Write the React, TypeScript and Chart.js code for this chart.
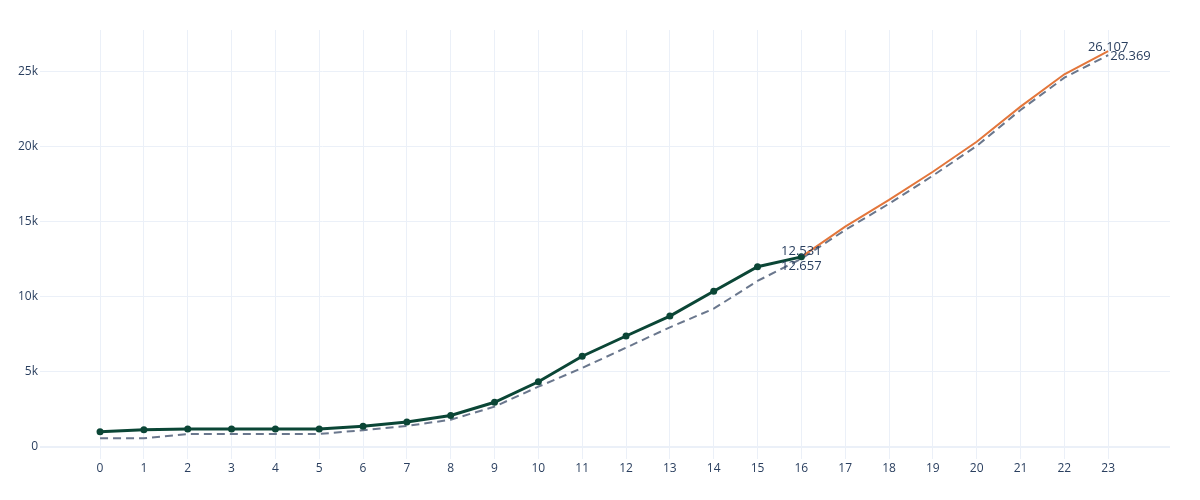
import { useEffect, useRef } from "react";
import { Chart, registerables } from "chart.js";
Chart.register(...registerables);

const xLabels = ["0", "1", "2", "3", "4", "5", "6", "7", "8", "9", "10", "11", "12", "13", "14", "15", "16", "17", "18", "19", "20", "21", "22", "23"];
const actual = [1000, 1130, 1180, 1180, 1180, 1180, 1360, 1650, 2080, 2960, 4330, 6030, 7380, 8710, 10360, 12000, 12657];
const forecastX = [16, 17, 18, 19, 20, 21, 22, 23];
const forecast = [12657, 14670, 16450, 18330, 20330, 22670, 24830, 26369];
const baseline = [560, 560, 850, 850, 850, 850, 1100, 1380, 1800, 2670, 4000, 5250, 6600, 7960, 9200, 11050, 12531, 14450, 16200, 18070, 20050, 22450, 24600, 26107];
const yTicks = [0, 5000, 10000, 15000, 20000, 25000];

const TEXT = "#2a3f5f";
const GRID = "#ebf0f8";

const fmt = (n: number) => n.toString().replace(/\B(?=(\d{3})+(?!\d))/g, ".");

// end-of-series value labels, placed like the plotly textpositions
const endLabels = [
  { x: 16, y: baseline[16], dx: 0, dy: -7, align: "center" },
  { x: 16, y: actual[16], dx: 0, dy: 9, align: "center" },
  { x: 23, y: baseline[23], dx: 0, dy: -8, align: "center" },
  { x: 23, y: forecast[forecast.length - 1], dx: 2, dy: 5, align: "left" },
];

const labelPlugin = {
  id: "endLabels",
  afterDatasetsDraw(chart: any) {
    const { ctx, scales } = chart;
    ctx.save();
    ctx.font = "13px 'Open Sans'";
    ctx.fillStyle = TEXT;
    ctx.textBaseline = "middle";
    for (const l of endLabels) {
      ctx.textAlign = l.align;
      ctx.fillText(fmt(l.y), scales.x.getPixelForValue(l.x) + l.dx, scales.y.getPixelForValue(l.y) + l.dy);
    }
    ctx.restore();
  },
};

export default function App() {
  const ref = useRef<HTMLCanvasElement>(null);

  useEffect(() => {
    document.body.style.margin = "0";
    if (!ref.current) return;
    const chart = new Chart(ref.current, {
      type: "line",
      data: {
        datasets: [
          {
            data: actual.map((v, i) => ({ x: i, y: v })),
            borderColor: "#0b4636",
            backgroundColor: "#0b4636",
            borderWidth: 3,
            pointRadius: 3.5,
            pointBorderWidth: 0,
            tension: 0,
          },
          {
            data: forecast.map((v, i) => ({ x: forecastX[i], y: v })),
            borderColor: "#e3763b",
            borderWidth: 2,
            pointRadius: 0,
            tension: 0,
          },
          {
            data: baseline.map((v, i) => ({ x: i, y: v })),
            borderColor: "#6a778d",
            borderWidth: 2,
            borderDash: [8, 5],
            pointRadius: 0,
            tension: 0,
          },
        ],
      },
      options: {
        animation: false,
        responsive: false,
        layout: { padding: { top: 30, right: 30, left: 0, bottom: 0 } },
        plugins: { legend: { display: false }, tooltip: { enabled: false } },
        scales: {
          x: {
            type: "linear",
            min: -1.37,
            max: 24.41,
            afterBuildTicks: (s: any) => { s.ticks = xLabels.map((_, i) => ({ value: i })); },
            afterFit: (s: any) => { s.height = 41; },
            grid: { color: GRID, lineWidth: 1, drawTicks: false },
            border: { display: false },
            ticks: {
              color: TEXT, padding: 2, maxRotation: 0, autoSkip: false,
              font: { family: "'Open Sans'", size: 12 },
              callback: (v: any) => xLabels[v] ?? "",
            },
          },
          y: {
            min: -820,
            max: 27780,
            afterBuildTicks: (s: any) => { s.ticks = yTicks.map((v) => ({ value: v })); },
            afterFit: (s: any) => { s.width = 40; },
            grid: { color: GRID, lineWidth: (c: any) => (c.tick && c.tick.value === 0 ? 2 : 1), drawTicks: false },
            border: { display: false },
            ticks: {
              color: TEXT, padding: 2,
              font: { family: "'Open Sans'", size: 12 },
              callback: (v: any) => (v === 0 ? "0" : v / 1000 + "k"),
            },
          },
        },
      },
      plugins: [labelPlugin],
    });
    return () => chart.destroy();
  }, []);

  return <canvas ref={ref} width={1200} height={500} style={{ display: "block", width: 1200, height: 500 }} />;
}
